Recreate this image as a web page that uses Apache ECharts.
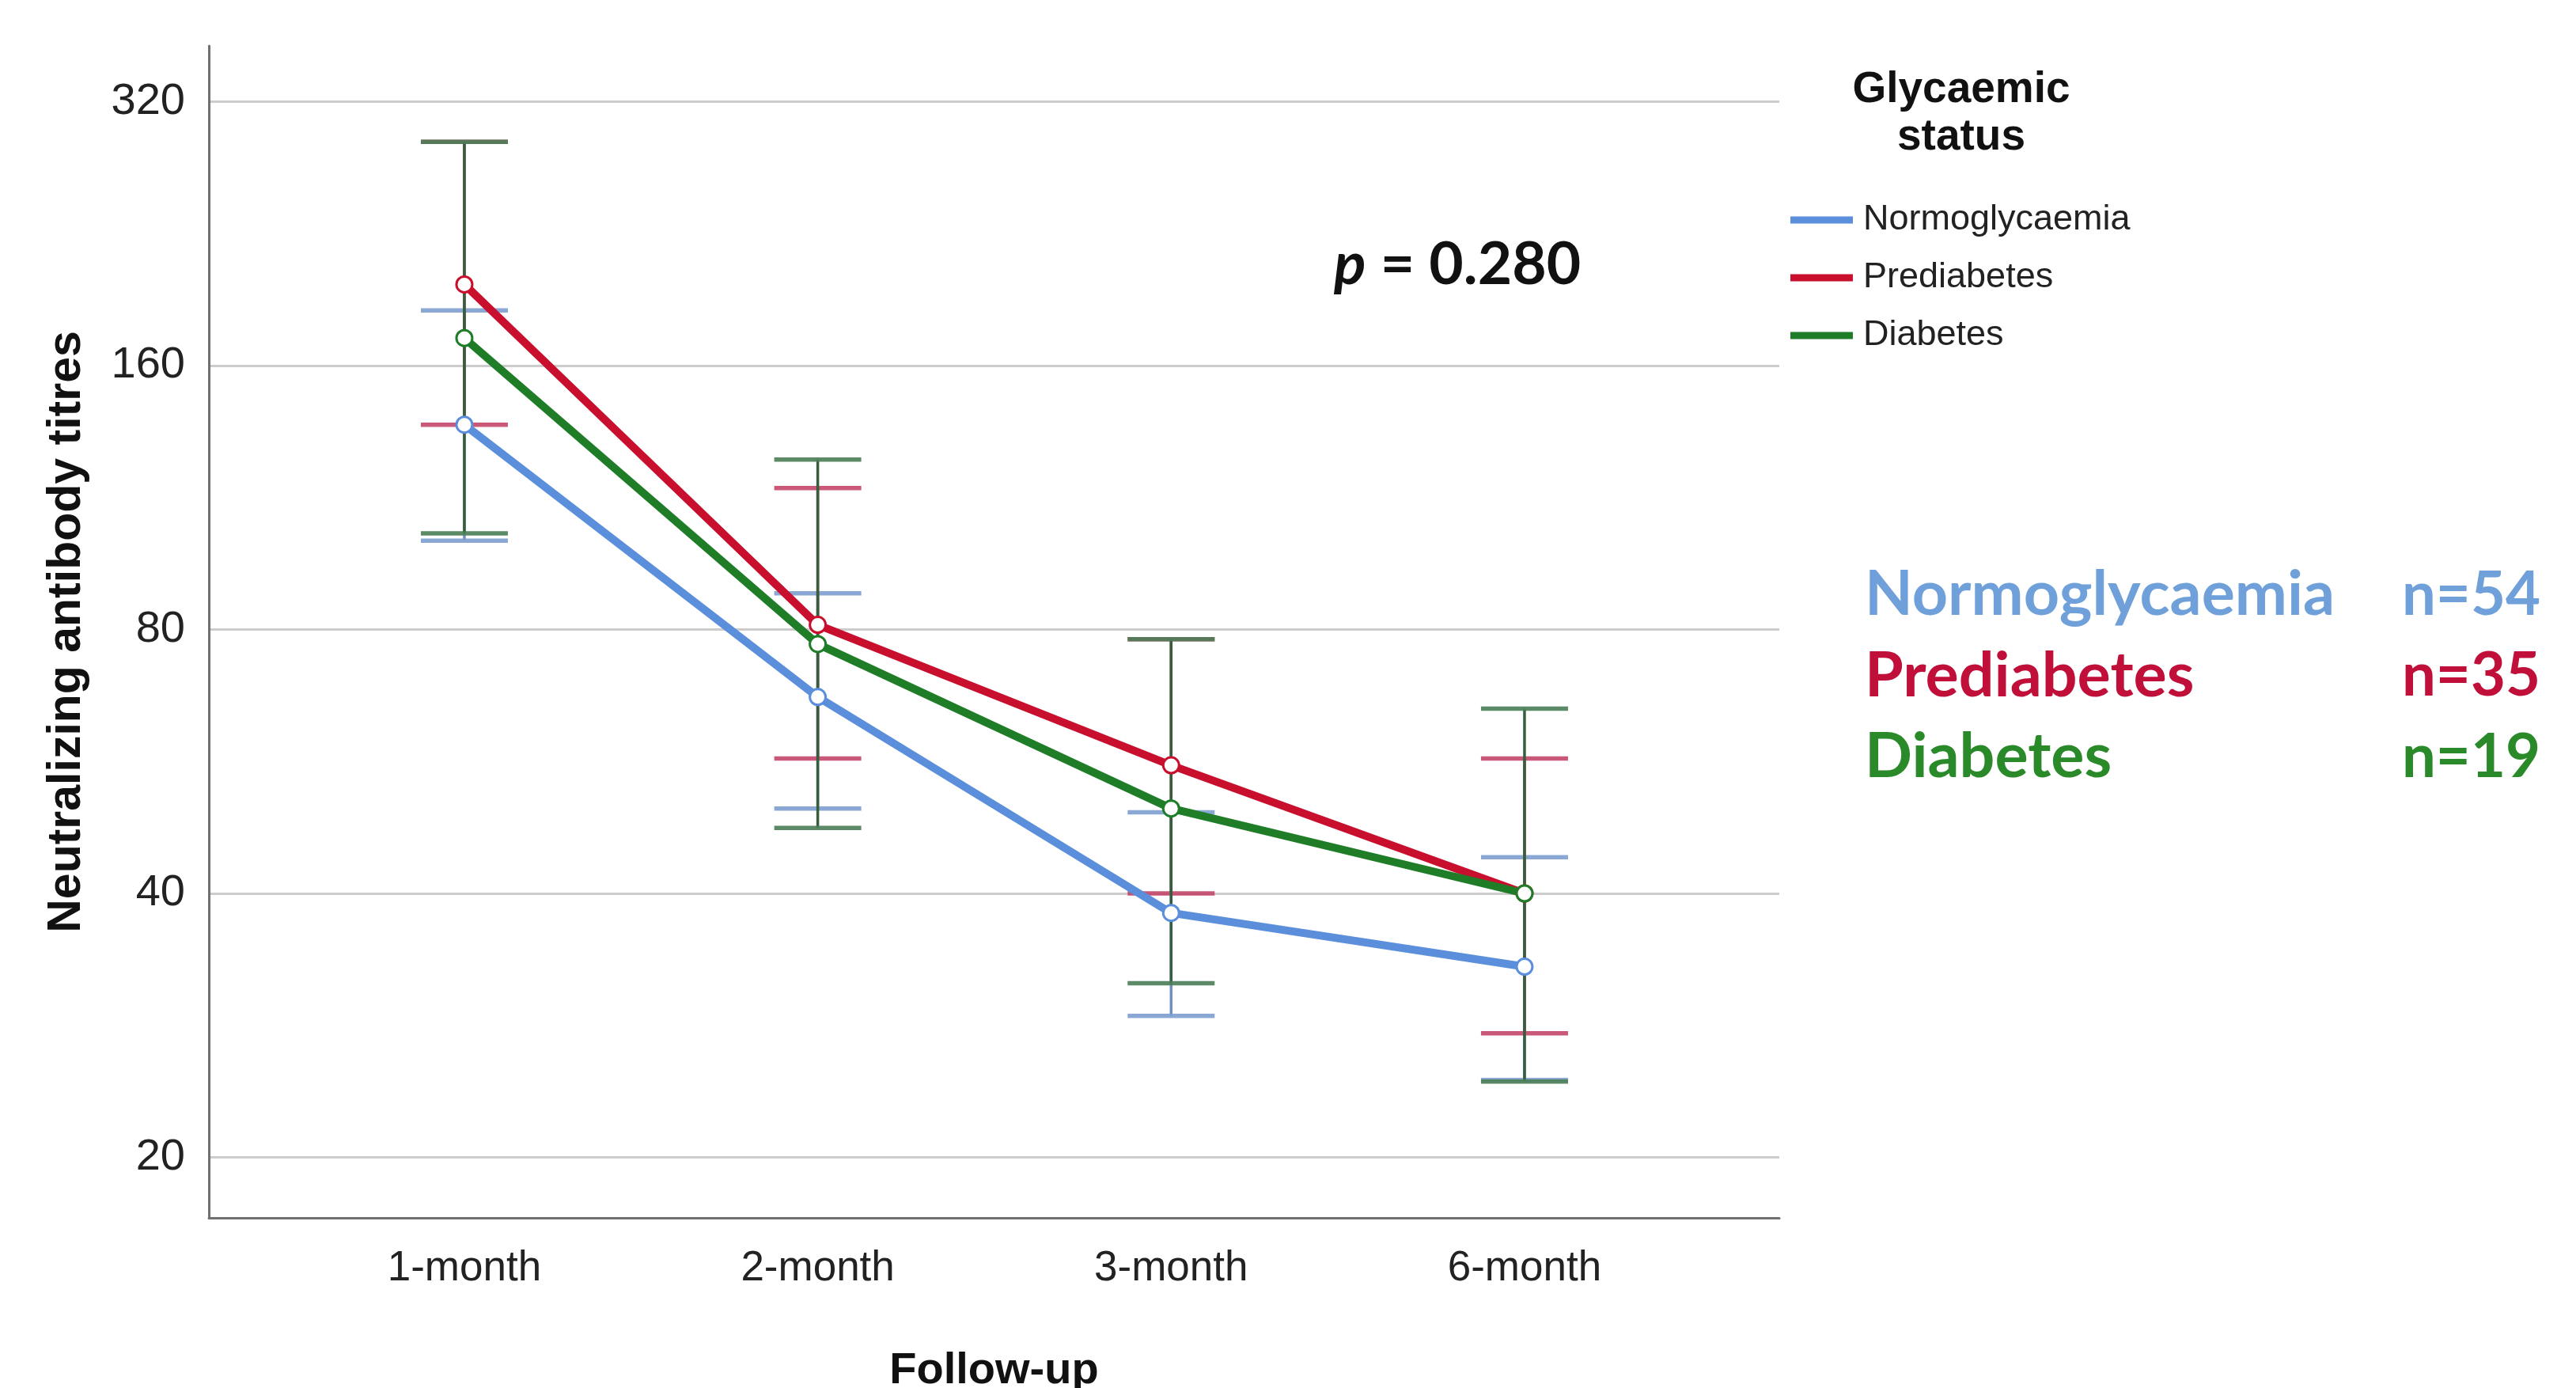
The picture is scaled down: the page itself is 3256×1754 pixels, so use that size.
<!DOCTYPE html>
<html>
<head>
<meta charset="utf-8">
<script src="https://cdn.jsdelivr.net/npm/echarts@6/dist/echarts.min.js"></script>
<style>
  html, body { margin: 0; padding: 0; background: #fff; }
  #chart { width: 3256px; height: 1754px; }
</style>
</head>
<body>
<div id="chart"></div>
<script>
// follow-up time points and y tick values (log2 scale)
const timepoints = ['1-month', '2-month', '3-month', '6-month'];
const yTicks = [20, 40, 80, 160, 320];
const groups = ['Normoglycaemia', 'Prediabetes', 'Diabetes'];
const groupN = ['n=54', 'n=35', 'n=19'];

// geometric mean titres with 95% CI
const normoMean = [137, 67, 38, 33];
const normoLow = [101, 50, 29, 24.5];
const normoHigh = [185, 88, 49.5, 44];

const preMean = [198, 81, 56, 40];
const preLow = [137, 57, 40, 27.7];
const preHigh = [288, 116, 78, 57];

const diabMean = [172, 77, 50, 40];
const diabLow = [103, 47.5, 31.6, 24.4];
const diabHigh = [288, 125, 78, 65];

const lineColors = ['#5b8fdc', '#c8102e', '#1f7d28'];
const capColors = ['#7d9fce', '#c4466a', '#4a7d55'];
const stemColors = ['#6f8fbf', '#b04060', '#355f3c'];
const textColors = ['#6fa0da', '#c0103a', '#2a8a2a'];

const means = [normoMean, preMean, diabMean];
const lows = [normoLow, preLow, diabLow];
const highs = [normoHigh, preHigh, diabHigh];

const axisFont = 'Liberation Sans';
const chart = echarts.init(document.getElementById('chart'));

const errorSeries = groups.map((g, i) => ({
  type: 'custom',
  z: 2,
  silent: true,
  data: timepoints.map((t, k) => [k, lows[i][k], highs[i][k]]),
  encode: { x: 0, y: [1, 2] },
  renderItem: function (params, api) {
    const x = api.value(0);
    const pLo = api.coord([x, api.value(1)]);
    const pHi = api.coord([x, api.value(2)]);
    const hw = 55;
    return {
      type: 'group',
      children: [
        { type: 'line', shape: { x1: pLo[0], y1: pLo[1], x2: pHi[0], y2: pHi[1] },
          style: { stroke: stemColors[i], lineWidth: 3.5 } },
        { type: 'line', shape: { x1: pHi[0] - hw, y1: pHi[1], x2: pHi[0] + hw, y2: pHi[1] },
          style: { stroke: capColors[i], lineWidth: 5.5, opacity: 0.9 } },
        { type: 'line', shape: { x1: pLo[0] - hw, y1: pLo[1], x2: pLo[0] + hw, y2: pLo[1] },
          style: { stroke: capColors[i], lineWidth: 5.5, opacity: 0.9 } }
      ]
    };
  }
}));

const lineSeries = groups.map((g, i) => ({
  name: g,
  type: 'line',
  z: 3,
  data: means[i].map((v, k) => [k, v]),
  symbol: 'circle',
  symbolSize: 20,
  lineStyle: { color: lineColors[i], width: 10 },
  itemStyle: { color: '#fff', borderColor: lineColors[i], borderWidth: 3 },
  emphasis: { disabled: true }
}));

const option = {
  animation: false,
  backgroundColor: '#fff',
  grid: { left: 264, right: 1007, top: 58, bottom: 215, outerBoundsMode: 'none', containLabel: false },
  xAxis: {
    type: 'value',
    min: -0.723,
    max: 3.721,
    axisLine: { onZero: false, lineStyle: { color: '#707070', width: 3 } },
    axisTick: { show: false, customValues: [0, 1, 2, 3] },
    axisLabel: {
      customValues: [0, 1, 2, 3],
      formatter: v => timepoints[Math.round(v)],
      fontSize: 53, color: '#222', margin: 38, fontFamily: axisFont
    },
    splitLine: { show: false },
    name: 'Follow-up',
    nameLocation: 'middle',
    nameGap: 166,
    nameTextStyle: { fontSize: 56, fontWeight: 'bold', color: '#111', fontFamily: axisFont }
  },
  yAxis: {
    type: 'log',
    logBase: 2,
    min: 17.06,
    max: 370.5,
    axisLine: { show: true, onZero: false, lineStyle: { color: '#707070', width: 3 } },
    axisTick: { show: false, customValues: yTicks },
    axisLabel: {
      customValues: yTicks,
      fontSize: 56, color: '#222', margin: 30, fontFamily: axisFont
    },
    splitLine: { show: true, lineStyle: { color: '#cccccc', width: 3 } },
    minorTick: { show: false },
    name: 'Neutralizing antibody titres',
    nameLocation: 'middle',
    nameGap: 150,
    nameTextStyle: { fontSize: 59, fontWeight: 'bold', color: '#111', fontFamily: axisFont }
  },
  legend: {
    orient: 'vertical',
    left: 2258,
    top: 248,
    itemWidth: 79,
    itemHeight: 9,
    itemGap: 23,
    icon: 'rect',
    selectedMode: false,
    textStyle: { fontSize: 45, lineHeight: 50, color: '#222', fontFamily: axisFont, padding: [0, 0, 0, 8] },
    data: groups.map((g, i) => ({ name: g, itemStyle: { color: lineColors[i], borderWidth: 0 } }))
  },
  graphic: [
    {
      type: 'text', x: 2479, y: 144,
      style: {
        text: 'Glycaemic\nstatus', textAlign: 'center', textVerticalAlign: 'middle',
        fontSize: 55, fontWeight: 'bold', fontFamily: axisFont, lineHeight: 60, fill: '#111'
      }
    },
    {
      type: 'text', x: 1686, y: 335,
      style: {
        text: '{i|p}{b| = 0.280}',
        textVerticalAlign: 'middle',
        rich: {
          i: { fontStyle: 'italic', fontWeight: 'bold', fontSize: 75, fontFamily: 'Lato', fill: '#111' },
          b: { fontWeight: 'bold', fontSize: 75, fontFamily: 'Lato', fill: '#111' }
        }
      }
    }
  ].concat(groups.map((g, i) => ({
    type: 'text', x: 2357, y: 752 + i * 102.5,
    style: { text: g, textVerticalAlign: 'middle', fontSize: 79, fontWeight: 'bold', fontFamily: 'Lato', fill: textColors[i] }
  }))).concat(groupN.map((n, i) => ({
    type: 'text', x: 3036, y: 752 + i * 102.5,
    style: { text: n, textVerticalAlign: 'middle', fontSize: 76, fontWeight: 'bold', fontFamily: 'Lato', fill: textColors[i] }
  }))),
  series: errorSeries.concat(lineSeries)
};

chart.setOption(option);
</script>
</body>
</html>
